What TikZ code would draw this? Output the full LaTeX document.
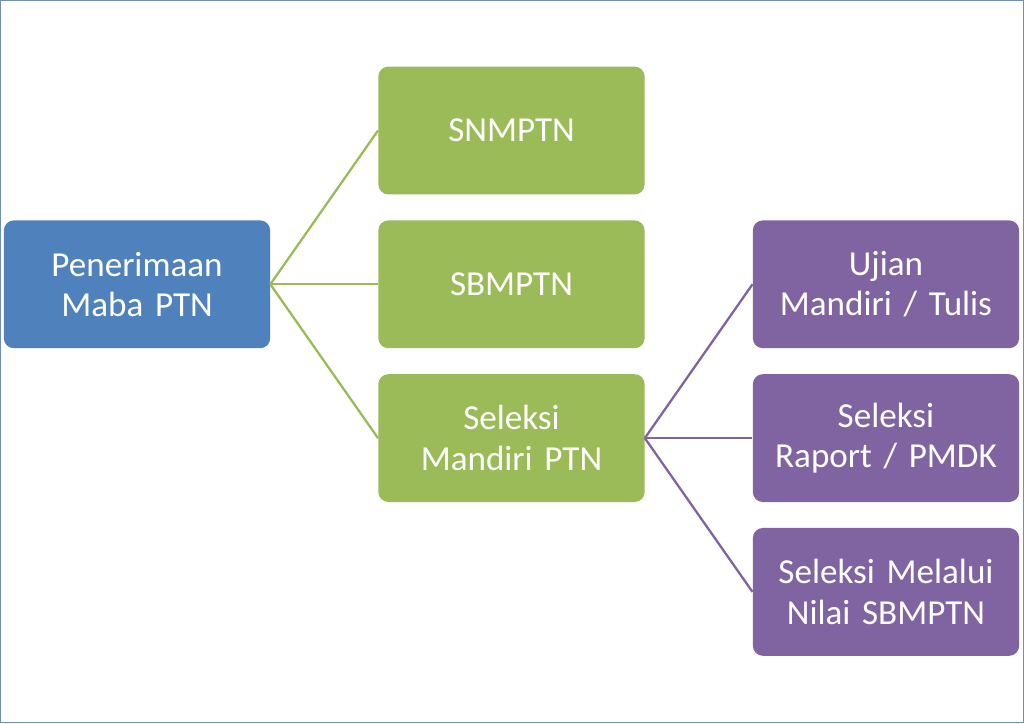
\documentclass[tikz,border=0pt]{standalone}
\usepackage{fontspec}
\setmainfont{Carlito}
\usetikzlibrary{positioning}
\definecolor{pblue}{HTML}{4F81BD}
\definecolor{pgreen}{HTML}{9BBB59}
\definecolor{ppurple}{HTML}{8064A2}
\definecolor{pframe}{HTML}{6F8FB7}
\tikzset{
  box/.style={rectangle, rounded corners=0.2cm, minimum width=5.26cm, minimum height=2.56cm,
              text width=5.1cm, align=center, text=white, font=\fontsize{20}{23}\selectfont},
  boxblue/.style={box, fill=pblue},
  boxgreen/.style={box, fill=pgreen},
  boxpurple/.style={box, fill=ppurple},
  link/.style={line width=1.3pt}
}
\begin{document}
\begin{tikzpicture}[x=0.02cm,y=-0.02cm]

      \draw[pframe, line width=0.8pt, fill=white] (0,0) rectangle (1024,723);
   %   \draw[help lines] (0,0) grid (1024,723);

      \node [boxblue] (maba) at (136.5, 284) {Penerimaan\\Maba PTN};

      \node [boxgreen] (snm) at (511.5, 130) {SNMPTN};
      \node [boxgreen] (sbm) at (511.5, 284) {SBMPTN};
      \node [boxgreen] (mandiri) at (511.5, 438) {Seleksi\\Mandiri PTN};

      \node [boxpurple] (ujian) at (886.5, 284) {Ujian\\Mandiri / Tulis};
      \node [boxpurple] (raport) at (886.5, 438) {Seleksi\\Raport / PMDK};
      \node [boxpurple] (nilai) at (886.5, 592) {Seleksi Melalui\\Nilai SBMPTN};

      \coordinate (gsplit) at (270, 284);
      \draw[link, pgreen] (gsplit) -- (snm.west);
      \draw[link, pgreen] (gsplit) -- (sbm.west);
      \draw[link, pgreen] (gsplit) -- (mandiri.west);

      \coordinate (psplit) at (645, 438);
      \draw[link, ppurple] (psplit) -- (ujian.west);
      \draw[link, ppurple] (psplit) -- (raport.west);
      \draw[link, ppurple] (psplit) -- (nilai.west);

\end{tikzpicture}
\end{document}
